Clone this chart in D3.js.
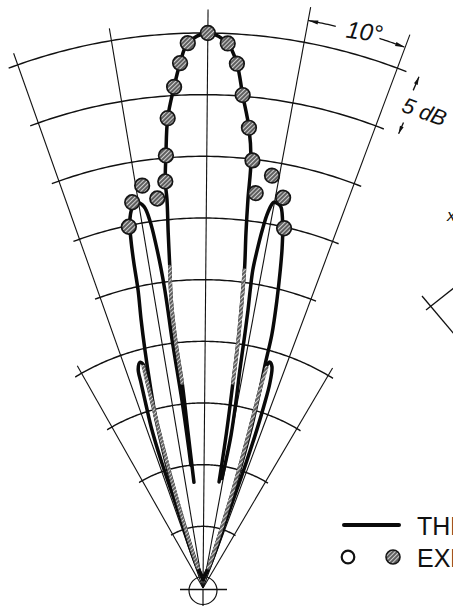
<!DOCTYPE html>
<html>
<head>
<meta charset="utf-8">
<title>Radiation pattern – theory and experiment</title>
<script src="https://cdn.jsdelivr.net/npm/d3@7/dist/d3.min.js"></script>
<style>
  html, body { margin: 0; padding: 0; background: #ffffff; }
  svg { display: block; }
  text { font-family: "Liberation Sans", Arial, sans-serif; fill: #111; }
</style>
</head>
<body>
<svg id="chart" width="453" height="609"></svg>
<script>
// ---------- data: [angle in degrees off boresight, level in dB] ----------

// polar grid: rings every 5 dB, spokes every 10 degrees
const ringLevels  = [-40, -35, -30, -25, -20, -15, -10, -5, 0];
const spokeAngles = [-30, -20, -10, 0, 10, 20, 30];

// theory: main beam
const theoryMain = [
  [-5.4, -36.4], [-6.0, -32.4], [-6.3, -28.3], [-6.8, -25.0], [-6.8, -21.5],
  [-6.4, -18.8], [-6.1, -16.1], [-5.8, -13.4], [-5.8, -11.9], [-5.4, -9.8],
  [-4.8, -6.8], [-3.8, -4.3], [-3.0, -2.4], [-2.1, -0.8], [0, 0],
  [2.1, -0.8], [3.2, -2.4], [4.1, -4.9], [5.2, -7.5], [5.9, -10.1],
  [6.1, -13.3], [6.4, -16.0], [6.9, -18.8], [7.2, -21.4], [7.6, -24.9],
  [7.8, -28.2], [8.1, -32.3], [8.1, -36.3]
];

// theory: first side lobe, left and right
const theoryLeftLobe1 = [
  [-6.1, -35.0], [-6.5, -32.5], [-6.9, -29.7], [-7.3, -27.2], [-7.6, -24.7],
  [-7.7, -22.3], [-7.8, -20.6], [-8.0, -18.8], [-8.3, -16.9], [-8.7, -15.0],
  [-9.3, -13.7], [-10.2, -13.3], [-11.1, -13.7], [-11.8, -14.7], [-12.2, -16.2],
  [-12.5, -18.0], [-12.8, -20.3], [-13.5, -22.7], [-14.2, -25.1], [-15.1, -28.0],
  [-16.1, -30.9], [-16.7, -33.4], [-17.2, -35.7], [-17.3, -38.0], [-17.4, -40.3],
  [-17.4, -42.2], [-13.0, -43.5], [0, -44.3]
];
const theoryRightLobe1 = [
  [9.2, -36.0], [9.7, -34.5], [9.9, -32.4], [9.5, -29.5], [9.1, -27.1],
  [8.9, -24.6], [8.7, -22.2], [8.5, -20.5], [8.4, -18.9], [8.6, -17.3],
  [8.9, -15.6], [9.3, -14.1], [9.9, -13.2], [10.7, -13.3], [11.1, -13.5],
  [11.9, -14.9], [12.6, -16.7], [13.2, -18.6], [13.9, -20.9], [14.7, -23.7],
  [15.0, -26.0], [15.6, -28.5], [16.2, -31.0], [16.6, -33.4], [16.9, -35.8],
  [17.0, -38.2], [17.0, -40.5], [16.0, -42.6], [0, -44.3]
];

// theory: second side lobe, left and right
const theoryLeftLobe2 = [
  [0, -44.3], [-16.5, -43.2], [-18.5, -41.6], [-18.4, -39.2], [-18.6, -36.6],
  [-18.7, -34.1], [-18.4, -31.5], [-17.8, -29.5], [-17.3, -27.6], [-17.0, -26.5],
  [-16.1, -26.0], [-15.5, -26.2], [-15.7, -28.0], [-15.9, -30.0], [-16.2, -32.1],
  [-16.5, -34.4], [-16.8, -36.9], [-16.9, -39.3], [-16.8, -41.5], [-14.5, -43.3],
  [0, -44.3]
];
const theoryRightLobe2 = [
  [0, -44.3], [14.5, -43.3], [16.6, -41.5], [16.7, -39.3], [16.6, -36.9],
  [16.3, -34.4], [16.0, -32.1], [15.7, -30.0], [15.5, -28.0], [15.5, -26.2],
  [16.0, -25.9], [16.8, -26.2], [17.6, -27.6], [18.0, -29.5], [18.3, -31.5],
  [18.5, -34.1], [18.5, -36.6], [18.3, -39.2], [18.3, -41.6], [16.5, -43.2],
  [0, -44.3]
];

// experiment: measured points
const expPoints = [
  [0, 0],
  [-2.1, -0.8], [-3.0, -2.4], [-3.8, -4.3], [-4.8, -6.8], [-5.4, -9.8], [-5.8, -11.9],
  [-9.1, -12.0], [-7.2, -13.2], [-10.9, -13.2], [-12.1, -15.1],
  [2.1, -0.8], [3.2, -2.4], [4.1, -4.9], [5.2, -7.5], [6.1, -10.1],
  [9.0, -11.1], [7.1, -12.7], [11.1, -12.7], [12.2, -15.1]
];

// experiment: continuous recorder traces
const expTraceLeftMain   = [[-6.4, -18.8], [-6.8, -21.5], [-6.8, -25.0], [-6.3, -28.3]];
const expTraceRightMain  = [[6.9, -19.0], [7.2, -21.4], [7.6, -24.9], [7.8, -28.2]];
const expTraceLeftLobe2  = [
  [-15.6, -26.4], [-15.7, -28.0], [-15.9, -30.0], [-16.2, -32.1], [-16.5, -34.4],
  [-16.8, -36.9], [-16.9, -39.3], [-16.8, -41.5], [-14.5, -43.3]
];
const expTraceRightLobe2 = [
  [15.6, -26.4], [15.5, -28.0], [15.7, -30.0], [16.0, -32.1], [16.3, -34.4],
  [16.6, -36.9], [16.7, -39.3], [16.6, -41.5], [14.5, -43.3]
];

// legend labels
const legendLabels = ["THEORY", "EXPERIMENT"];

// ---------- layout ----------
const cx = 203, cy = 588;      // pattern origin
const R = 555;                 // radius of the 0 dB ring
const tilt = 0.5;              // slight drawing rotation, degrees

const svg = d3.select("#chart");
const defs = svg.append("defs");

// hatched grey fill used for measured data
const pat = defs.append("pattern")
  .attr("id", "hatch")
  .attr("patternUnits", "userSpaceOnUse")
  .attr("width", 3).attr("height", 3)
  .attr("patternTransform", "rotate(45)");
pat.append("rect").attr("width", 3).attr("height", 3).attr("fill", "#5e5e5e");
pat.append("rect").attr("width", 1.0).attr("height", 3).attr("fill", "#cfcfcf");

// scales
const rScale = d3.scaleLinear().domain([-45, 0]).range([0, R]);
const aScale = d3.scaleLinear().domain([-180, 180]).range([-Math.PI, Math.PI]);
const pt = d => d3.pointRadial(aScale(d[0]), rScale(d[1]));

const straight = d3.lineRadial()
  .angle(d => aScale(d[0])).radius(d => rScale(d[1]));
const smooth = d3.lineRadial()
  .angle(d => aScale(d[0])).radius(d => rScale(d[1]))
  .curve(d3.curveCatmullRom.alpha(0.5));

const g = svg.append("g")
  .attr("transform", `translate(${cx},${cy}) rotate(${tilt})`);

// ---------- grid ----------
const gridG = g.append("g").attr("fill", "none").attr("stroke", "#111");

ringLevels.forEach(lv => {
  const half = lv <= -25 ? 31.7 : 21;
  const pts = d3.range(-half, half + 0.001, 0.5).map(t => [t, lv]);
  gridG.append("path").attr("d", straight(pts)).attr("stroke-width", 1.45);
});

spokeAngles.forEach(ang => {
  let reach;
  if (Math.abs(ang) === 30) reach = -24.3;
  else if (ang === 0) reach = 1.9;
  else if (ang > 0) reach = 2.9;
  else reach = 1.0;
  gridG.append("path")
    .attr("d", straight([[ang, -45], [ang, reach]]))
    .attr("stroke-width", 1.1);
});

// ---------- theory curves ----------
const theoryG = g.append("g")
  .attr("fill", "none").attr("stroke", "#0a0a0a")
  .attr("stroke-width", 3.5)
  .attr("stroke-linecap", "round").attr("stroke-linejoin", "round");

[theoryMain, theoryLeftLobe1, theoryRightLobe1, theoryLeftLobe2, theoryRightLobe2]
  .forEach(c => theoryG.append("path").attr("d", smooth(c)));

// ---------- measured traces ----------
const traceG = g.append("g")
  .attr("fill", "none").attr("stroke", "url(#hatch)")
  .attr("stroke-width", 3.6).attr("stroke-linecap", "round");
[expTraceLeftMain, expTraceRightMain, expTraceLeftLobe2, expTraceRightLobe2]
  .forEach(c => traceG.append("path").attr("d", smooth(c)));

// ---------- measured points ----------
g.append("g").selectAll("circle")
  .data(expPoints)
  .join("circle")
  .attr("cx", d => pt(d)[0])
  .attr("cy", d => pt(d)[1])
  .attr("r", 7.3)
  .attr("fill", "url(#hatch)")
  .attr("stroke", "#151515")
  .attr("stroke-width", 1.7);

// ---------- dimension marks ----------
function arrowHead(parent, tip, toward, len, half) {
  const p = pt(tip), q = pt(toward);
  const dx = q[0] - p[0], dy = q[1] - p[1];
  const L = Math.hypot(dx, dy);
  const ux = dx / L, uy = dy / L;
  const bx = p[0] + ux * len, by = p[1] + uy * len;
  parent.append("path")
    .attr("d", `M${p[0]},${p[1]}L${bx - uy * half},${by + ux * half}L${bx + uy * half},${by - ux * half}Z`)
    .attr("fill", "#111");
}

const dimG = g.append("g").attr("fill", "none").attr("stroke", "#111").attr("stroke-width", 1.3);
const dimLevel = 1.8;
dimG.append("path").attr("d", straight(d3.range(10, 12.81, 0.2).map(t => [t, dimLevel])));
dimG.append("path").attr("d", straight(d3.range(17.3, 20.01, 0.2).map(t => [t, dimLevel])));
arrowHead(g, [10, dimLevel], [12, dimLevel], 10, 2.1);
arrowHead(g, [20, dimLevel], [18, dimLevel], 10, 2.1);

{
  const p = pt([15.8, 1.3]);
  g.append("text")
    .attr("transform", `translate(${p[0]},${p[1]}) rotate(7.5)`)
    .attr("text-anchor", "middle")
    .attr("font-size", 24)
    .attr("font-style", "italic")
    .text("10°");
}

// 5 dB radial dimension between the 0 and -5 dB rings
dimG.append("path").attr("d", straight([[22.4, -1.2], [22.4, 0]]));
dimG.append("path").attr("d", straight([[22.8, -3.9], [22.8, -4.9]]));
arrowHead(g, [22.4, 0], [22.4, -1], 8, 2);
arrowHead(g, [22.8, -4.9], [22.8, -3.9], 8, 2);
{
  const p = pt([22.0, -3.15]);
  g.append("text")
    .attr("transform", `translate(${p[0]},${p[1]}) rotate(19.5)`)
    .attr("font-size", 22)
    .attr("font-style", "italic")
    .text("5 dB");
}

// ---------- origin marker ----------
const og = svg.append("g").attr("fill", "none").attr("stroke", "#111").attr("stroke-width", 1.2);
og.append("circle").attr("cx", cx).attr("cy", cy + 2.5).attr("r", 14);
og.append("line").attr("x1", cx - 23).attr("x2", cx + 24).attr("y1", cy + 1.5).attr("y2", cy + 1.5).attr("stroke-width", 1.6);
og.append("line").attr("x1", cx).attr("x2", cx).attr("y1", cy + 1.5).attr("y2", cy + 18);

// ---------- neighbouring sketch (cut at the page edge) ----------
const ng = svg.append("g").attr("stroke", "#111").attr("stroke-width", 1.3).attr("fill", "none");
ng.append("line").attr("x1", 422).attr("y1", 296).attr("x2", 455).attr("y2", 335);
ng.append("line").attr("x1", 426).attr("y1", 310).attr("x2", 455).attr("y2", 287);
svg.append("text").attr("x", 447).attr("y", 221)
  .attr("font-size", 17).attr("font-style", "italic").text("x");

// ---------- legend ----------
const lg = svg.append("g");
lg.append("line")
  .attr("x1", 344).attr("x2", 399).attr("y1", 525).attr("y2", 525)
  .attr("stroke", "#0a0a0a").attr("stroke-width", 4).attr("stroke-linecap", "round");
lg.append("text").attr("x", 417).attr("y", 535).attr("font-size", 25).text(legendLabels[0]);
lg.append("circle").attr("cx", 348).attr("cy", 557).attr("r", 6.3)
  .attr("fill", "#fff").attr("stroke", "#111").attr("stroke-width", 2.2);
lg.append("circle").attr("cx", 393).attr("cy", 557).attr("r", 7)
  .attr("fill", "url(#hatch)").attr("stroke", "#151515").attr("stroke-width", 1.6);
lg.append("text").attr("x", 417).attr("y", 567).attr("font-size", 25).text(legendLabels[1]);
</script>
</body>
</html>
